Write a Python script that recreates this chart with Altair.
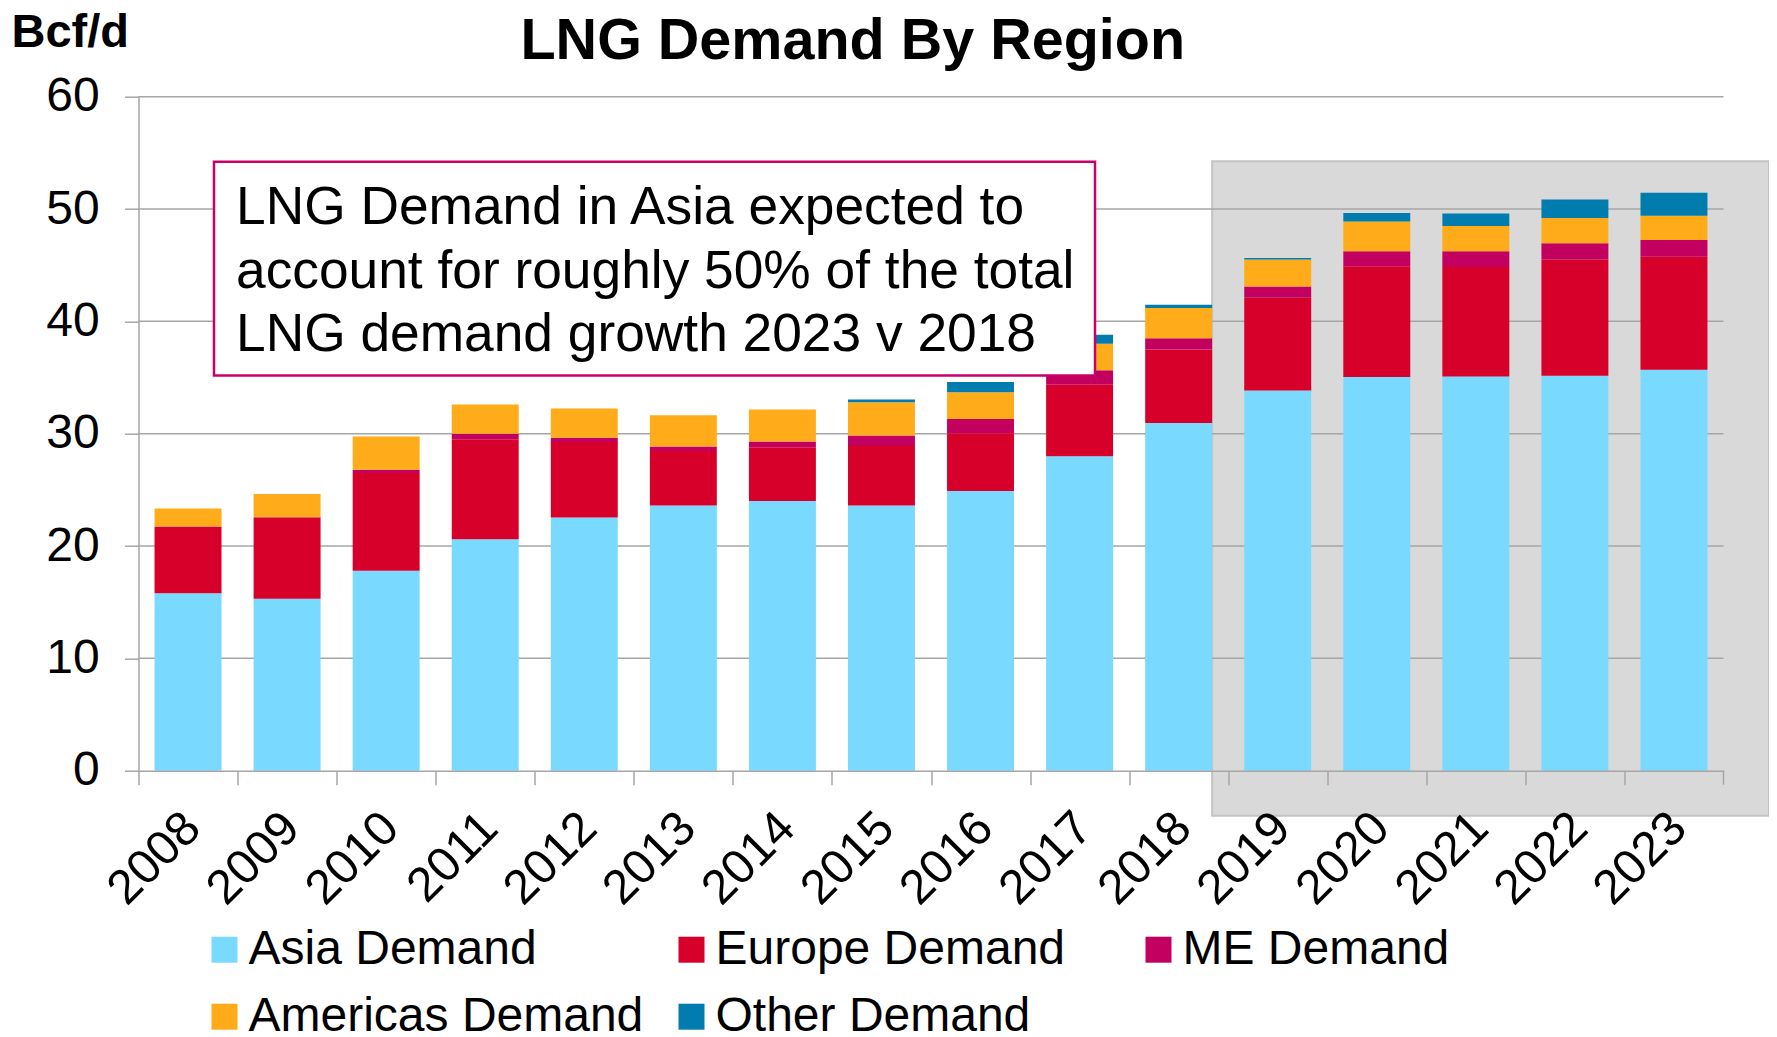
import altair as alt
import pandas as pd

# ---------------- data ----------------
years = [str(y) for y in range(2008, 2024)]
series = ["Asia Demand", "Europe Demand", "ME Demand", "Americas Demand", "Other Demand"]
colors = ["#79D9FF", "#D6002A", "#C3005F", "#FFAB1A", "#007DAE"]

asia = [15.8, 15.3, 17.8, 20.6, 22.55, 23.6, 24.0, 23.6, 24.9, 28.0, 30.95, 33.85, 35.05, 35.1, 35.15, 35.7]
europe = [5.9, 7.2, 8.7, 8.9, 6.7, 4.85, 4.8, 5.3, 5.15, 6.35, 6.55, 8.25, 9.85, 9.75, 10.35, 10.05]
me = [0.05, 0.06, 0.3, 0.5, 0.4, 0.4, 0.5, 0.95, 1.25, 1.3, 1.0, 1.0, 1.35, 1.4, 1.45, 1.5]
americas = [1.6, 2.07, 2.95, 2.6, 2.6, 2.8, 2.85, 2.95, 2.4, 2.35, 2.7, 2.4, 2.65, 2.25, 2.25, 2.15]
other = [0, 0, 0, 0, 0, 0, 0, 0.25, 0.9, 0.8, 0.27, 0.15, 0.75, 1.1, 1.65, 2.05]

y_ticks = [0, 10, 20, 30, 40, 50, 60]
grid_vals = [10, 20, 30, 40, 50, 60]

title_text = "LNG Demand By Region"
unit_text = "Bcf/d"
note_lines = [
    "LNG Demand in Asia expected to",
    "account for roughly 50% of the total",
    "LNG demand growth 2023 v 2018",
]
forecast_start_after = "2018"
shade_top, shade_bottom = 54.25, -4.0
box_top, box_bottom = 54.2, 35.17
note_baseline = 48.68

# ---------------- layout constants ----------------
FONT = "Liberation Sans"
W, H = 1585, 674
STEP = W / len(years)
PAD_L, PAD_T, PAD_R, PAD_B = 130.5, 88.7, 45.5, 266.3
GRAY = "#A6A6A6"

rows = []
for vals, name in zip([asia, europe, me, americas, other], series):
    for yr, v in zip(years, vals):
        rows.append({"year": yr, "series": name, "value": v, "order": series.index(name)})
df = pd.DataFrame(rows)

xscale = alt.Scale(domain=years, paddingInner=0.324, paddingOuter=0.162)
yscale = alt.Scale(domain=[0, 60], nice=False, zero=True)

x_axis = alt.Axis(
    title=None, labelAngle=315, labelAlign="right", labelBaseline="middle",
    labelFontSize=48.5, labelFont=FONT, labelColor="black", labelPadding=35,
    tickOffset=-STEP / 2, labelOffset=STEP / 2 + 4,
    tickSize=14, tickColor=GRAY, tickWidth=1.5,
    domainColor=GRAY, domainWidth=1.5, grid=False, zindex=1,
)
y_axis = alt.Axis(
    values=y_ticks, title=unit_text, titleAngle=0, titleX=-127.5, titleY=-50.2,
    titleAlign="left", titleBaseline="alphabetic", titleFontSize=47,
    titleFontWeight="bold", titleFont=FONT, titleColor="black",
    labelFontSize=48, labelFont=FONT, labelColor="black", labelPadding=25.4,
    tickSize=14, tickColor=GRAY, tickWidth=1.5,
    domainColor=GRAY, domainWidth=1.5, grid=False, zindex=1,
)

bars = alt.Chart(df).mark_bar().encode(
    x=alt.X("year:N", scale=xscale, axis=x_axis, sort=years),
    y=alt.Y("sum(value):Q", scale=yscale, axis=y_axis, stack="zero"),
    color=alt.Color(
        "series:N",
        scale=alt.Scale(domain=series, range=colors),
        sort=series,
        legend=alt.Legend(
            title=None, orient="none", legendX=62, legendY=829,
            direction="horizontal", columns=3, gridAlign="all",
            symbolType="square", symbolSize=676, symbolStrokeWidth=0,
            labelFontSize=48, labelFont=FONT, labelColor="black",
            labelOffset=0, columnPadding=24, rowPadding=19,
            labelLimit=0, padding=0,
        ),
    ),
    order=alt.Order("order:Q", sort="ascending"),
)

# shaded forecast region
shade_df = pd.DataFrame({"year": [forecast_start_after], "top": [shade_top], "bot": [shade_bottom]})
shade = alt.Chart(shade_df).mark_rect(fill="#D9D9D9", stroke="#C4C4C4", strokeWidth=2).encode(
    x=alt.X("year:N", scale=xscale, bandPosition=1, axis=x_axis, sort=years),
    x2=alt.value(W + PAD_R),
    y=alt.Y("top:Q", scale=yscale, axis=y_axis),
    y2="bot:Q",
)

# gridlines
grid_df = pd.DataFrame({"g": grid_vals})
grid = alt.Chart(grid_df).mark_rule(color=GRAY, strokeWidth=1.5).encode(
    y=alt.Y("g:Q", scale=yscale, axis=y_axis),
    x=alt.value(0),
    x2=alt.value(W),
)

# closing category tick at the right end of the x axis
end_tick = alt.Chart(pd.DataFrame({"k": [0]})).mark_rule(color=GRAY, strokeWidth=1.5).encode(
    x=alt.value(W), y=alt.value(H), y2=alt.value(H + 14),
)

# annotation box
box_df = pd.DataFrame({"top": [box_top], "bot": [box_bottom]})
box = alt.Chart(box_df).mark_rect(fill="white", stroke="#C8006A", strokeWidth=2.5).encode(
    x=alt.value(75.5),
    x2=alt.value(956.5),
    y=alt.Y("top:Q", scale=yscale, axis=y_axis),
    y2="bot:Q",
)
note_df = pd.DataFrame({"ny": [note_baseline]})
note = alt.Chart(note_df).mark_text(
    text=note_lines, align="left", baseline="alphabetic", fontSize=53.3,
    font=FONT, color="black", lineHeight=63.7,
).encode(
    x=alt.value(97.5),
    y=alt.Y("ny:Q", scale=yscale, axis=y_axis),
)

# chart title (as a text mark placed above the plot)
title_df = pd.DataFrame({"t": [title_text]})
title = alt.Chart(title_df).mark_text(
    align="left", baseline="alphabetic", fontSize=57.5, fontWeight="bold",
    font=FONT, color="black",
).encode(
    text="t:N",
    x=alt.value(382),
    y=alt.value(-37.4),
)

# draw order: shade, grid, bars, annotations
chart = alt.layer(shade, grid, bars, end_tick, box, note, title).properties(
    width=W, height=H,
    autosize=alt.AutoSizeParams(type="none"),
    padding={"left": PAD_L, "top": PAD_T, "right": PAD_R, "bottom": PAD_B},
    background="white",
).configure_view(stroke=None)

chart.save("out.html", embed_options={"renderer": "svg", "actions": False})
